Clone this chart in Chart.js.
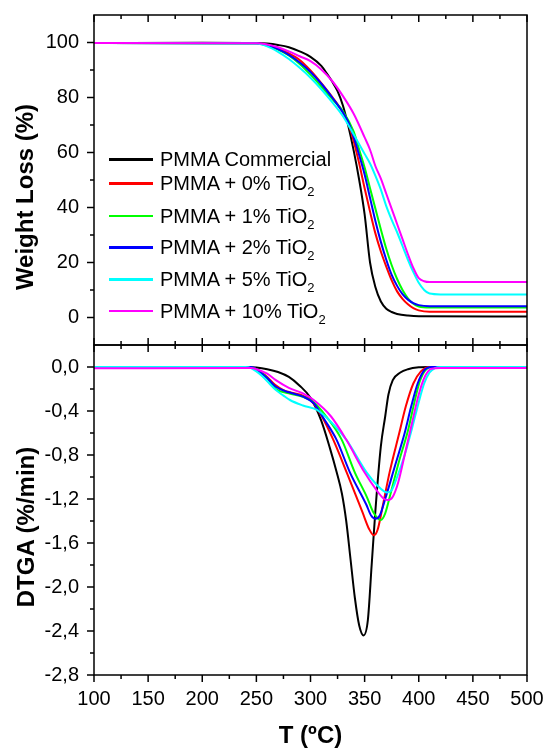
<!DOCTYPE html>
<html>
<head>
<meta charset="utf-8">
<script src="https://cdn.jsdelivr.net/npm/chart.js@4.4.1/dist/chart.umd.min.js"></script>
<style>
  body { margin: 0; background: #fff; font-family: "Liberation Sans", Arial, sans-serif; }
  #wrap { position: relative; width: 547px; height: 751px; overflow: hidden; }
  #tgaChart { position: absolute; left: 0; top: 0; }
  .ytitle { position: absolute; font-size: 24px; font-weight: bold; white-space: nowrap;
            transform: translate(-50%, -50%) rotate(-90deg); color: #000; }
  #legend { position: absolute; left: 0; top: 0; }
  .row { position: absolute; left: 109px; height: 0; white-space: nowrap; }
  .row .swatch { position: absolute; left: 0; top: -1px; width: 44px; height: 2.5px; }
  .row .txt { position: absolute; left: 51px; top: -12px; font-size: 20px; line-height: 24px; color: #000; }
  .row sub { font-size: 13px; vertical-align: -6px; line-height: 0; }
</style>
</head>
<body>
<div id="wrap">
  <canvas id="tgaChart" width="547" height="751"></canvas>
  <div class="ytitle" style="left:25px; top:197px;">Weight Loss (%)</div>
  <div class="ytitle" style="left:26px; top:527px;">DTGA (%/min)</div>
  <div id="legend"></div>
</div>
<script>
const temps = [100, 150, 200, 250, 300, 350, 400, 450, 500];
const tgaTicks = [0, 20, 40, 60, 80, 100];
const dtgaTicks = [-2.8, -2.4, -2.0, -1.6, -1.2, -0.8, -0.4, 0.0];

const seriesNames = ["PMMA Commercial", "PMMA + 0% TiO2", "PMMA + 1% TiO2",
  "PMMA + 2% TiO2", "PMMA + 5% TiO2", "PMMA + 10% TiO2"];
const seriesColors = ["#000000", "#ff0000", "#00ff00", "#0000ff", "#00ffff", "#ff00ff"];

// weight loss (%) vs T (ºC)
const tgaCommercial = [[100,99.8],[200,99.9],[250,99.8],[260,99.6],[270,99.1],[280,98.3],[290,96.8],
  [300,94.8],[310,91.5],[315,88.8],[320,85.8],[325,82.3],[330,77],[335,69.5],[340,60.5],[345,50],
  [350,37.5],[355,20],[360,11],[365,5.8],[370,3.2],[375,2.0],[380,1.3],[390,0.7],[400,0.45],[500,0.4]];
const tga0 = [[100,99.8],[250,99.7],[260,99.1],[270,97.8],[280,96],[290,93.6],[300,89.8],[310,85.2],
  [320,80.2],[330,74.5],[335,70.5],[340,64],[345,56],[350,47],[355,38.5],[360,30.5],[365,24],[370,18.5],
  [375,13.5],[380,9.5],[385,6.8],[390,4.8],[395,3.4],[400,2.6],[410,2.1],[500,2.1]];
const tga1 = [[100,99.8],[250,99.6],[260,98.9],[270,97.4],[280,95.3],[290,92.2],[300,88.3],[310,84],
  [320,79.5],[330,75],[340,67.5],[345,61],[350,54.5],[355,47],[360,39.5],[365,32],[370,25],[375,19],
  [380,14],[385,10],[390,7],[395,5],[400,4],[410,3.6],[500,3.6]];
const tga2 = [[100,99.8],[250,99.7],[260,99.1],[270,97.6],[280,95.5],[290,92.7],[300,89.3],[310,85],
  [320,80],[330,74.5],[335,71],[340,65.5],[345,59],[350,52],[355,43.5],[360,35],[365,27.5],[370,21],
  [375,15.5],[380,11.5],[385,8.5],[390,6.5],[395,5.2],[400,4.5],[410,4.1],[500,4.1]];
const tga5 = [[100,99.8],[250,99.6],[260,98.6],[270,96.6],[280,94],[290,90.8],[300,87.2],[310,83],
  [320,78.3],[330,73.2],[340,66.5],[350,59.5],[355,56],[360,51.5],[365,46.5],[370,40.5],[375,35.5],
  [380,31],[385,26],[390,21],[395,16.5],[400,12.6],[405,10],[410,8.7],[420,8.4],[500,8.4]];
const tga10 = [[100,99.8],[250,99.7],[260,99.3],[270,98.3],[280,96.8],[290,95],[300,93.2],[310,90.2],
  [320,86],[330,80.5],[340,74],[350,65.5],[355,61],[360,55],[365,50.5],[370,45],[375,39.5],[380,34],
  [385,28.5],[390,23],[395,18],[400,14.3],[405,13.2],[410,12.9],[500,12.9]];

// DTGA (%/min) vs T (ºC)
const dtgaCommercial = [[100,0],[240,0],[250,-0.005],[260,-0.02],[270,-0.045],[280,-0.09],[290,-0.17],
  [300,-0.28],[310,-0.49],[318,-0.74],[324,-0.95],[329,-1.15],[333,-1.4],[337,-1.75],[341,-2.1],
  [345,-2.35],[349,-2.44],[353,-2.3],[356.5,-1.8],[360,-1.3],[365,-0.72],[369,-0.45],[372,-0.25],
  [376,-0.12],[383,-0.05],[390,-0.02],[400,-0.003],[410,0],[500,0]];
const dtga0 = [[100,0],[245,0],[250,-0.02],[255,-0.05],[260,-0.09],[267,-0.16],[275,-0.21],[281,-0.23],
  [290,-0.25],[300,-0.30],[310,-0.44],[321,-0.66],[333.5,-0.96],[348,-1.32],[354,-1.47],[358.5,-1.53],
  [362,-1.48],[366,-1.30],[373,-0.96],[382,-0.60],[388,-0.36],[395,-0.15],[402,-0.04],[410,0],[500,0]];
const dtga1 = [[100,0],[245,0],[250,-0.02],[255,-0.055],[260,-0.1],[268,-0.2],[280,-0.24],[293,-0.27],
  [303,-0.32],[313,-0.43],[328.8,-0.66],[341,-0.96],[352,-1.18],[358,-1.32],[365,-1.39],[369,-1.33],
  [374,-1.15],[382,-0.85],[390,-0.58],[396,-0.32],[401,-0.13],[406,-0.03],[413,0],[500,0]];
const dtga2 = [[100,0],[245,0],[250,-0.02],[255,-0.06],[260,-0.10],[268,-0.18],[280,-0.23],[293,-0.27],
  [303,-0.33],[313,-0.48],[324,-0.66],[336.5,-0.96],[351.5,-1.25],[356,-1.35],[360,-1.38],[364,-1.35],
  [369,-1.2],[378,-0.90],[387,-0.60],[393,-0.36],[399,-0.15],[405,-0.03],[412,0],[500,0]];
const dtga5 = [[100,0],[240,0],[245,-0.01],[250,-0.04],[255,-0.08],[262,-0.15],[268,-0.21],[275,-0.26],
  [281,-0.30],[293,-0.35],[306,-0.39],[319,-0.50],[333,-0.66],[352,-0.96],[362,-1.08],[368,-1.13],
  [371,-1.14],[375,-1.12],[380,-1.0],[387,-0.8],[394,-0.55],[400,-0.32],[405,-0.15],[410,-0.05],
  [415,-0.01],[420,0],[500,0]];
const dtga10 = [[100,-0.012],[245,-0.01],[250,-0.02],[260,-0.06],[268,-0.12],[280,-0.19],[293,-0.24],
  [303,-0.30],[319,-0.45],[333,-0.66],[350,-0.96],[361,-1.12],[368,-1.2],[372,-1.21],[376,-1.18],
  [381,-1.05],[387,-0.8],[394,-0.5],[400,-0.25],[406,-0.08],[412,-0.015],[420,-0.01],[500,-0.01]];

const tgaSeries = [tgaCommercial, tga0, tga1, tga2, tga5, tga10];
const dtgaSeries = [dtgaCommercial, dtga0, dtga1, dtga2, dtga5, dtga10];

Chart.defaults.font.family = "'Liberation Sans', Arial, sans-serif";
Chart.defaults.color = "#000";

function toPoints(pairs) {
  return pairs.map((p) => ({ x: p[0], y: p[1] }));
}

function midpoints(list) {
  const out = [];
  for (let i = 0; i < list.length - 1; i++) out.push((list[i] + list[i + 1]) / 2);
  return out;
}

const datasets = [];
tgaSeries.forEach((s, i) => {
  datasets.push({ label: seriesNames[i], data: toPoints(s), yAxisID: "yW",
    borderColor: seriesColors[i], order: 5 - i });
});
dtgaSeries.forEach((s, i) => {
  datasets.push({ label: seriesNames[i], data: toPoints(s), yAxisID: "yD",
    borderColor: seriesColors[i], order: 5 - i });
});

// frame around both panels plus major/minor tick marks
const framePlugin = {
  id: "frame",
  afterDatasetsDraw(chart) {
    const { ctx, chartArea, scales } = chart;
    const x = scales.x, yW = scales.yW, yD = scales.yD;
    const L = chartArea.left, R = chartArea.right;
    const major = 7, minor = 4;
    ctx.save();
    ctx.strokeStyle = "#000";
    ctx.lineWidth = 1.5;
    ctx.strokeRect(L, yW.top, R - L, yW.bottom - yW.top);
    ctx.strokeRect(L, yD.top, R - L, yD.bottom - yD.top);

    function line(x1, y1, x2, y2) {
      ctx.beginPath();
      ctx.moveTo(x1, y1);
      ctx.lineTo(x2, y2);
      ctx.stroke();
    }

    const xt = temps.map((v) => [v, major]).concat(midpoints(temps).map((v) => [v, minor]));
    xt.forEach(([v, len]) => {
      const px = x.getPixelForValue(v);
      line(px, yW.top, px, yW.top + len);
      line(px, yW.bottom - len, px, yW.bottom + len);
      line(px, yD.bottom, px, yD.bottom + len);
    });

    const wt = tgaTicks.map((v) => [v, major]).concat(midpoints(tgaTicks).map((v) => [v, minor]));
    wt.forEach(([v, len]) => {
      const py = yW.getPixelForValue(v);
      line(L - len, py, L, py);
    });
    const dt = dtgaTicks.map((v) => [v, major]).concat(midpoints(dtgaTicks).map((v) => [v, minor]));
    dt.forEach(([v, len]) => {
      const py = yD.getPixelForValue(v);
      line(L - len, py, L, py);
    });
    ctx.restore();
  },
};

const tickFont = { size: 20 };

function fitY(s) {
  s.width = 94;
  s.paddingTop = 0;
  s.paddingBottom = 0;
}

const chart = new Chart(document.getElementById("tgaChart").getContext("2d"), {
  type: "line",
  data: { datasets: datasets },
  options: {
    responsive: false,
    animation: false,
    layout: { padding: { left: 0, right: 20, top: 15, bottom: 0 } },
    plugins: { legend: { display: false }, tooltip: { enabled: false } },
    elements: {
      point: { radius: 0 },
      line: { borderWidth: 2, cubicInterpolationMode: "monotone", fill: false },
    },
    scales: {
      x: {
        type: "linear", position: "bottom", min: 100, max: 500,
        afterBuildTicks: (s) => { s.ticks = temps.map((v) => ({ value: v })); },
        afterFit: (s) => { s.height = 76; s.paddingLeft = 0; s.paddingRight = 0; },
        grid: { display: false, drawTicks: false },
        border: { display: false },
        ticks: { font: tickFont, color: "#000", padding: 12, maxRotation: 0, autoSkip: false },
        title: { display: true, text: "T (ºC)", color: "#000",
          font: { size: 24, weight: "bold" }, padding: { top: 0, bottom: 0 } },
      },
      yD: {
        type: "linear", position: "left", stack: "panels", stackWeight: 1,
        min: -2.8, max: 0.2,
        afterBuildTicks: (s) => { s.ticks = dtgaTicks.map((v) => ({ value: v })); },
        afterFit: fitY,
        grid: { display: false, drawTicks: false },
        border: { display: false },
        ticks: { font: tickFont, color: "#000", padding: 15, autoSkip: false,
          callback: (v) => v.toFixed(1).replace(".", ",") },
      },
      yW: {
        type: "linear", position: "left", stack: "panels", stackWeight: 1,
        min: -10, max: 110,
        afterBuildTicks: (s) => { s.ticks = tgaTicks.map((v) => ({ value: v })); },
        afterFit: fitY,
        grid: { display: false, drawTicks: false },
        border: { display: false },
        ticks: { font: tickFont, color: "#000", padding: 15, autoSkip: false },
      },
    },
  },
  plugins: [framePlugin],
});

// legend drawn as html so the subscript stays real text
const legendRows = [159, 183.3, 215.7, 247.3, 279, 310.7];
const legend = document.getElementById("legend");
seriesNames.forEach((name, i) => {
  const row = document.createElement("div");
  row.className = "row";
  row.style.top = legendRows[i] + "px";
  row.innerHTML = `<div class="swatch" style="background:${seriesColors[i]}"></div>` +
    `<div class="txt">${name.replace("TiO2", "TiO<sub>2</sub>")}</div>`;
  legend.appendChild(row);
});
</script>
</body>
</html>
